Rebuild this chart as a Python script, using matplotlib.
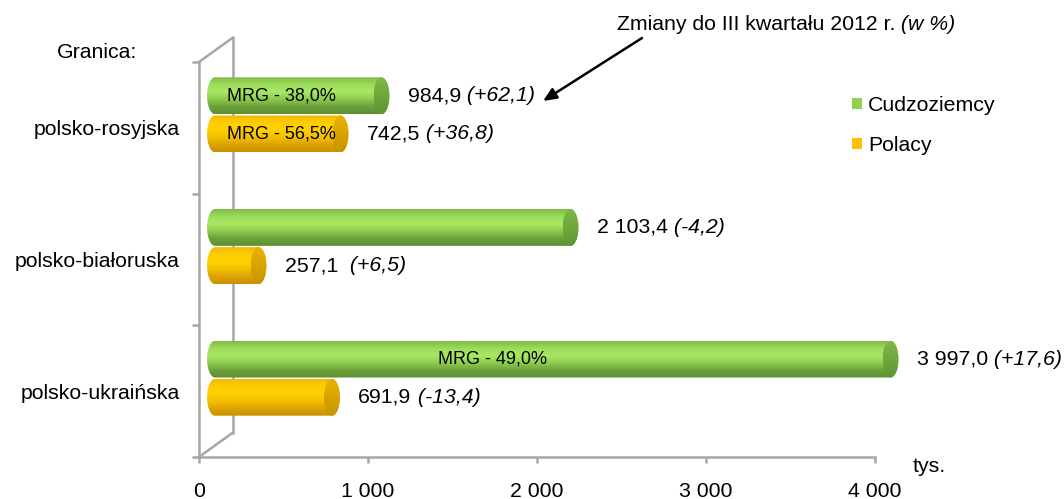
import numpy as np
import matplotlib
matplotlib.use("Agg")
import matplotlib.pyplot as plt
from matplotlib.colors import LinearSegmentedColormap
from matplotlib.patches import Polygon, Ellipse, Patch
from matplotlib.lines import Line2D
import matplotlib.transforms as mtransforms

# ---------------- data ----------------
categories = ["polsko-rosyjska", "polsko-białoruska", "polsko-ukraińska"]
series_names = ["Cudzoziemcy", "Polacy"]
cudzoziemcy = [984.9, 2103.4, 3997.0]
polacy = [742.5, 257.1, 691.9]
cudz_change = ["(+62,1)", "(-4,2)", "(+17,6)"]
pol_change = ["(+36,8)", "(+6,5)", "(-13,4)"]
cudz_value_txt = ["984,9", "2 103,4", "3 997,0"]
pol_value_txt = ["742,5", "257,1 ", "691,9"]
cudz_mrg = ["MRG - 38,0%", None, "MRG - 49,0%"]
pol_mrg = ["MRG - 56,5%", None, None]
xticks = [0, 1000, 2000, 3000, 4000]
xtick_labels = ["0", "1 000", "2 000", "3 000", "4 000"]
x_max = 4000

FONT = "Liberation Sans"
plt.rcParams["font.family"] = [FONT, "DejaVu Sans"]
FS = 15.3
GRAY = "#a6a6a6"

W, H = 1064, 499
fig = plt.figure(figsize=(W / 100, H / 100), dpi=100)
# pixel layout: x=0 at 199px, x=4000 at 875px; axes box extended to the right
# so that the longest cylinder is not clipped
ax_left, ax_end, ax_box_right, ax_bottom, ax_top = 199, 875, 1060, 457, 62
ax = fig.add_axes([ax_left / W, (H - ax_bottom) / H,
                   (ax_box_right - ax_left) / W, (ax_bottom - ax_top) / H])
ax.set_xlim(0, x_max * (ax_box_right - ax_left) / (ax_end - ax_left))
ax.set_ylim(2.5, -0.5)
ax.set_autoscale_on(False)
ax.patch.set_alpha(0)

# offset transform for the "3D" bars
bar_tr = ax.transData + mtransforms.ScaledTranslation(0.16, 0.13, fig.dpi_scale_trans)

green_cmap = LinearSegmentedColormap.from_list(
    "g", ["#80bc48", "#9edd5a", "#a8e865", "#8ecb4e", "#6ba03b", "#5d8f33"])
orange_cmap = LinearSegmentedColormap.from_list(
    "o", ["#f2bc00", "#ffcc00", "#ffd000", "#f5c000", "#dca300", "#c99300"])
green_cap = LinearSegmentedColormap.from_list("gc", ["#7fb846", "#6fa83b", "#5e9532"])
orange_cap = LinearSegmentedColormap.from_list("oc", ["#e8b200", "#d9a400", "#c89400"])

bar_h = 0.28
half_gap = 0.145
cap_a = 47.0  # half-width of end ellipse in data units
grad = np.linspace(0, 1, 64).reshape(-1, 1)


def cylinder(value, yc, cmap, capmap):
    top, bot = yc - bar_h / 2, yc + bar_h / 2
    t = np.linspace(np.pi / 2, 3 * np.pi / 2, 40)
    left = np.column_stack([cap_a * np.cos(t), yc - (bar_h / 2) * np.sin(t)])
    t2 = np.linspace(-np.pi / 2, np.pi / 2, 40)
    right = np.column_stack([value + cap_a * np.cos(t2), yc - (bar_h / 2) * np.sin(t2)])
    pts = np.vstack([left, right])
    poly = Polygon(pts, closed=True, transform=bar_tr, facecolor="none",
                   edgecolor="none", clip_on=False)
    ax.add_patch(poly)
    im = ax.imshow(grad, cmap=cmap, aspect="auto",
                   extent=(-cap_a, value + cap_a, bot, top), transform=bar_tr,
                   interpolation="bilinear", zorder=2)
    im.set_clip_path(poly)
    ell = Ellipse((value, yc), 2 * cap_a, bar_h, transform=bar_tr,
                  facecolor="none", edgecolor="none", clip_on=False)
    ax.add_patch(ell)
    im2 = ax.imshow(grad, cmap=capmap, aspect="auto",
                    extent=(value - cap_a, value + cap_a, bot, top), transform=bar_tr,
                    interpolation="bilinear", zorder=3)
    im2.set_clip_path(ell)


def value_label(value, yc, txt, itxt):
    t1 = ax.annotate(txt, xy=(value, yc), xycoords=bar_tr, xytext=(19, 0),
                     textcoords="offset points", va="center", ha="left",
                     fontsize=FS, color="#000000")
    ax.annotate(" " + itxt, xy=(1, 0.5), xycoords=t1, va="center", ha="left",
                fontsize=FS, style="italic", color="#000000")


for i in range(len(categories)):
    yg = i - half_gap
    yo = i + half_gap
    cylinder(cudzoziemcy[i], yg, green_cmap, green_cap)
    cylinder(polacy[i], yo, orange_cmap, orange_cap)
    value_label(cudzoziemcy[i], yg, cudz_value_txt[i], cudz_change[i])
    value_label(polacy[i], yo, pol_value_txt[i], pol_change[i])
    if cudz_mrg[i]:
        xm = 395 if cudzoziemcy[i] < 1500 else 1640
        ax.text(xm, yg, cudz_mrg[i], transform=bar_tr, ha="center", va="center",
                fontsize=13, zorder=5)
    if pol_mrg[i]:
        ax.text(395, yo, pol_mrg[i], transform=bar_tr, ha="center", va="center",
                fontsize=13, zorder=5)

# axes styling
for s in ["top", "right"]:
    ax.spines[s].set_visible(False)
for s in ["left", "bottom"]:
    ax.spines[s].set_color(GRAY)
    ax.spines[s].set_linewidth(1.8)
ax.spines["bottom"].set_bounds(0, x_max)

ax.set_xticks(xticks)
ax.set_xticklabels(xtick_labels)
ax.tick_params(axis="x", length=4, width=1.8, color=GRAY, pad=14, labelsize=FS)

ax.set_yticks([-0.5, 0.5, 1.5, 2.5])
ax.set_yticklabels([])
ax.tick_params(axis="y", which="major", length=5, width=1.8, color=GRAY)
ax.set_yticks(range(len(categories)), minor=True)
ax.set_yticklabels(categories, minor=True)
ax.tick_params(axis="y", which="minor", length=0, pad=14, labelsize=FS)

# back wall lines
wall_tr = ax.transAxes + mtransforms.ScaledTranslation(0.34, 0.245, fig.dpi_scale_trans)
wall_kw = dict(color=GRAY, lw=1.8, clip_on=False, zorder=1)
ax.add_line(Line2D([0, 0], [0, 1], transform=wall_tr, **wall_kw))
for yy in (0, 1):
    p0 = ax.transAxes.transform((0, yy))
    p1 = wall_tr.transform((0, yy))
    ax.add_line(Line2D([p0[0], p1[0]], [p0[1], p1[1]], transform=None, **wall_kw))

# axis unit label
fig.text(913 / W, 1 - 466 / H, "tys.", fontsize=FS, va="center", ha="left")

fig.text(57 / W, 1 - 52 / H, "Granica:", fontsize=FS, va="center", ha="left")

# title with arrow
t1 = fig.text(617 / W, 1 - 24 / H, "Zmiany do III kwartału 2012 r.", fontsize=FS,
              va="center", ha="left")
ax.annotate(" (w %)", xy=(1, 0.5), xycoords=t1, va="center", ha="left",
            fontsize=FS, style="italic")
ax.annotate("", xy=(543, H - 101), xycoords="figure pixels",
            xytext=(642, H - 38), textcoords="figure pixels",
            arrowprops=dict(arrowstyle="-|>,head_length=0.8,head_width=0.35",
                            color="black", lw=1.8, shrinkA=0, shrinkB=0))

# legend
handles = [Patch(facecolor="#92d050", edgecolor="none"),
           Patch(facecolor="#ffc000", edgecolor="none")]
fig.legend(handles, series_names, loc="upper left",
           bbox_to_anchor=(852 / W, 1 - 96 / H), frameon=False, fontsize=FS,
           handlelength=0.45, handleheight=0.45, handletextpad=0.3,
           labelspacing=1.0, borderpad=0, borderaxespad=0)

fig.savefig("out.png", dpi=100)
